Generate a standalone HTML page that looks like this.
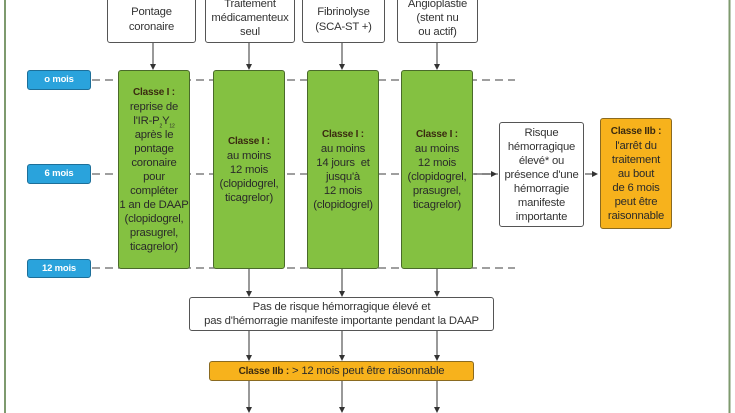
<!DOCTYPE html>
<html><head><meta charset="utf-8"><style>
body{margin:0;width:735px;height:413px;background:#fff;position:relative;overflow:hidden;font-family:"Liberation Sans",sans-serif;color:#333}
.b{position:absolute;box-sizing:border-box;display:flex;align-items:center;justify-content:center;text-align:center;font-size:11.3px;line-height:14px;border-radius:3px;letter-spacing:-0.2px}
.w{background:#fff;border:1px solid #555}
.g{background:#84c141;border:1px solid #4a6a2a;color:#2a2a2a}
.o{background:#f7b21c;border:1px solid #8a6a20;color:#2a2a2a}
.t{background:#2aa3dc;border:1px solid #1d6f99;color:#fff;font-weight:bold;font-size:9.5px;border-radius:3px}
b{font-size:10px;color:#3a2a10}
sub{font-size:5px;line-height:0}
</style></head><body>
<svg width="735" height="413" style="position:absolute;left:0;top:0">
<defs><marker id="a" markerWidth="6" markerHeight="6" refX="5" refY="3" orient="auto"><path d="M0,0L6,3L0,6z" fill="#333"/></marker></defs>
<line x1="5" y1="0" x2="5" y2="413" stroke="#7e9a6e" stroke-width="2"/>
<line x1="729.5" y1="0" x2="729.5" y2="413" stroke="#7e9a6e" stroke-width="2"/>
<g stroke="#666" stroke-width="1.2" stroke-dasharray="8,5">
<line x1="92" y1="80" x2="515" y2="80"/><line x1="92" y1="174" x2="498" y2="174"/><line x1="92" y1="268" x2="515" y2="268"/></g>
<g stroke="#333" stroke-width="1" marker-end="url(#a)">
<line x1="153" y1="42" x2="153" y2="69"/><line x1="249" y1="42" x2="249" y2="69"/><line x1="342" y1="42" x2="342" y2="69"/><line x1="437" y1="42" x2="437" y2="69"/>
<line x1="474" y1="174" x2="496" y2="174"/><line x1="585" y1="174" x2="597" y2="174"/>
<line x1="249" y1="268" x2="249" y2="296"/><line x1="342" y1="268" x2="342" y2="296"/><line x1="437" y1="268" x2="437" y2="296"/>
<line x1="249" y1="331" x2="249" y2="360"/><line x1="342" y1="331" x2="342" y2="360"/><line x1="437" y1="331" x2="437" y2="360"/>
<line x1="249" y1="381" x2="249" y2="412"/><line x1="342" y1="381" x2="342" y2="412"/><line x1="437" y1="381" x2="437" y2="412"/>
</g></svg>
<div class="b w" style="left:107px;top:-4px;width:89px;height:47px;line-height:15px">Pontage<br>coronaire</div>
<div class="b w" style="left:205px;top:-8px;width:90px;height:51px">Traitement<br>médicamenteux<br>seul</div>
<div class="b w" style="left:302px;top:-4px;width:83px;height:47px;line-height:15px">Fibrinolyse<br>(SCA-ST +)</div>
<div class="b w" style="left:397px;top:-8px;width:81px;height:51px">Angioplastie<br>(stent nu<br>ou actif)</div>
<div class="b t" style="left:27px;top:70px;width:64px;height:20px">o mois</div>
<div class="b t" style="left:27px;top:164px;width:64px;height:20px">6 mois</div>
<div class="b t" style="left:27px;top:259px;width:64px;height:19px">12 mois</div>
<div class="b g" style="left:118px;top:70px;width:72px;height:199px"><div><b>Classe I :</b><br>reprise de<br>l'IR-P<sub>2</sub>Y<sub>12</sub><br>après le<br>pontage<br>coronaire<br>pour<br>compléter<br>1 an de DAAP<br>(clopidogrel,<br>prasugrel,<br>ticagrelor)</div></div>
<div class="b g" style="left:213px;top:70px;width:72px;height:199px"><div><b>Classe I :</b><br>au moins<br>12 mois<br>(clopidogrel,<br>ticagrelor)</div></div>
<div class="b g" style="left:307px;top:70px;width:72px;height:199px"><div><b>Classe I :</b><br>au moins<br>14 jours&nbsp; et<br>jusqu'à<br>12 mois<br>(clopidogrel)</div></div>
<div class="b g" style="left:401px;top:70px;width:72px;height:199px"><div><b>Classe I :</b><br>au moins<br>12 mois<br>(clopidogrel,<br>prasugrel,<br>ticagrelor)</div></div>
<div class="b w" style="left:499px;top:122px;width:85px;height:105px">Risque<br>hémorragique<br>élevé* ou<br>présence d'une<br>hémorragie<br>manifeste<br>importante</div>
<div class="b o" style="left:600px;top:118px;width:72px;height:111px"><div><b>Classe IIb :</b><br>l'arrêt du<br>traitement<br>au bout<br>de 6 mois<br>peut être<br>raisonnable</div></div>
<div class="b w" style="left:189px;top:297px;width:305px;height:34px">Pas de risque hémorragique élevé et<br>pas d'hémorragie manifeste importante pendant la DAAP</div>
<div class="b o" style="left:209px;top:361px;width:265px;height:20px"><div><b>Classe IIb :</b> &gt; 12 mois peut être raisonnable</div></div>
</body></html>
